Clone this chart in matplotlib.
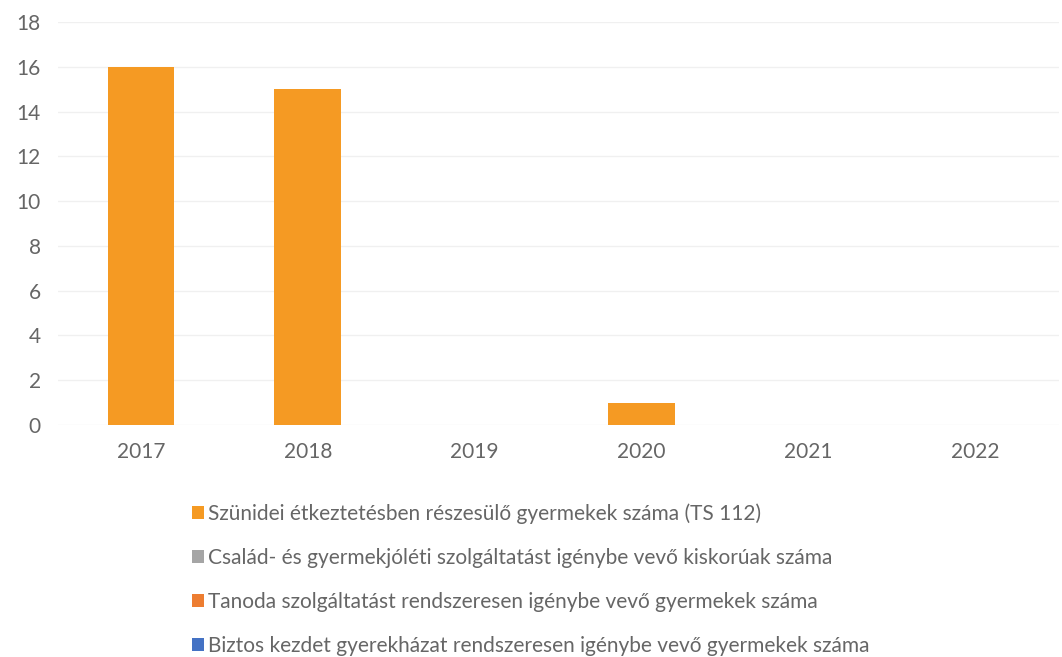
import matplotlib
matplotlib.use("Agg")
import matplotlib.pyplot as plt
import numpy as np

years = ["2017", "2018", "2019", "2020", "2021", "2022"]
series_names = [
    "Szünidei étkeztetésben részesülő gyermekek száma (TS 112)",
    "Család- és gyermekjóléti szolgáltatást igénybe vevő kiskorúak száma",
    "Tanoda szolgáltatást rendszeresen igénybe vevő gyermekek száma",
    "Biztos kezdet gyerekházat rendszeresen igénybe vevő gyermekek száma",
]
szunidei = [16, 15, 0, 1, 0, 0]
csalad = [0, 0, 0, 0, 0, 0]
tanoda = [0, 0, 0, 0, 0, 0]
biztos = [0, 0, 0, 0, 0, 0]
colors = ["#F59A23", "#A5A5A5", "#ED7D31", "#4472C4"]

plt.rcParams['font.family'] = ['Lato', 'DejaVu Sans']
text_color = "#666666"

fig = plt.figure(figsize=(10.62, 6.57), dpi=100)
ax = fig.add_axes([57.5/1062, 1-425/657, (1058.5-57.5)/1062, (425-22)/657])

x = np.arange(len(years))
bottom = np.zeros(len(years))
handles = []
for vals, name, c in zip([szunidei, csalad, tanoda, biztos], series_names, colors):
    b = ax.bar(x, vals, width=0.4, bottom=bottom, color=c, label=name)
    bottom += np.array(vals)
    handles.append(b)

ax.set_xlim(-0.5, len(years) - 0.5)
ax.set_ylim(0, 18)
ax.set_yticks(range(0, 19, 2))
ax.set_xticks(x)
ax.set_xticklabels(years)
ax.yaxis.grid(True, color="#f0f0f0", linewidth=1)
ax.set_axisbelow(True)
for s in ax.spines.values():
    s.set_visible(False)
ax.tick_params(axis='both', length=0, colors=text_color, labelsize=15)
ax.tick_params(axis='x', pad=12)
ax.tick_params(axis='y', pad=12)

leg = fig.legend(handles=handles, labels=series_names, loc="upper left",
                 bbox_to_anchor=(184/1062, 1-495/657), frameon=False,
                 fontsize=15, handlelength=0.55, handleheight=0.55,
                 handletextpad=0.2, labelspacing=1.15, borderaxespad=0)
for t in leg.get_texts():
    t.set_color(text_color)

fig.savefig("out.png", dpi=100, facecolor="white")
